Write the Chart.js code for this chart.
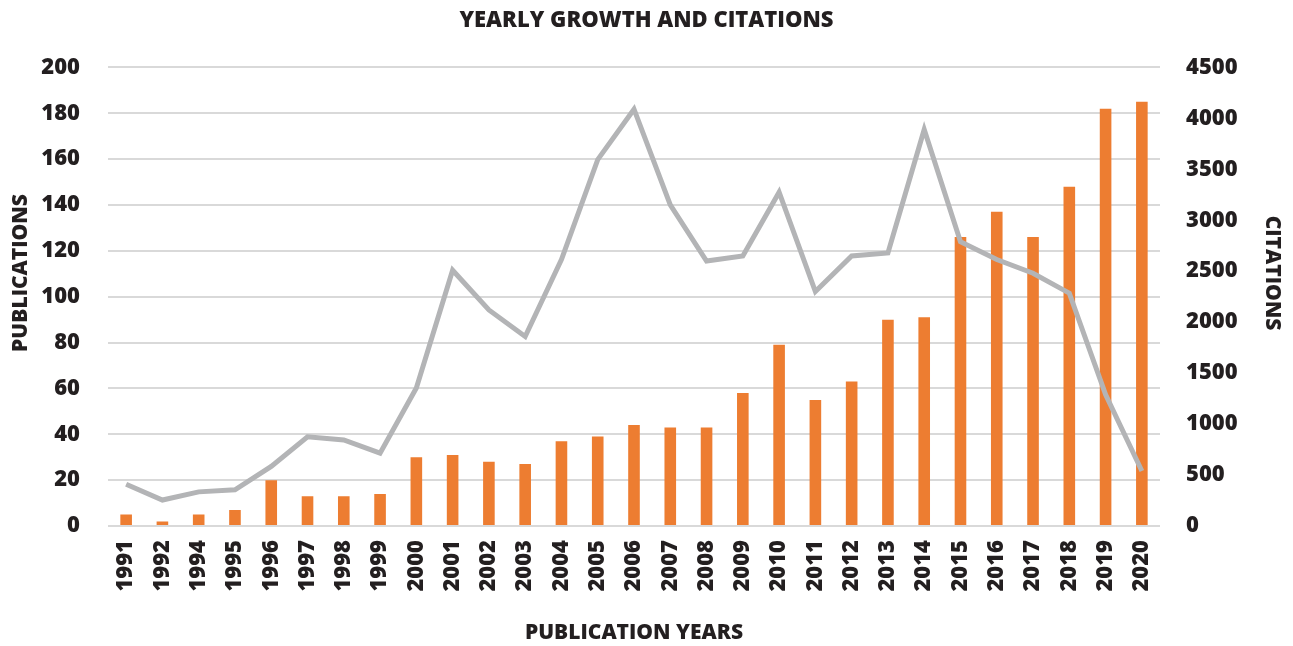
<!DOCTYPE html>
<html>
<head>
<meta charset="utf-8">
<script src="https://cdn.jsdelivr.net/npm/chart.js@4"></script>
<style>
  body { margin: 0; background: #fff; }
</style>
</head>
<body>
<canvas id="chart" width="1293" height="646"></canvas>
<script>
// data
const years = ['1991', '1992', '1994', '1995', '1996', '1997', '1998', '1999', '2000', '2001',
  '2002', '2003', '2004', '2005', '2006', '2007', '2008', '2009', '2010', '2011',
  '2012', '2013', '2014', '2015', '2016', '2017', '2018', '2019', '2020'];
const publications = [5, 2, 5, 7, 20, 13, 13, 14, 30, 31,
  28, 27, 37, 39, 44, 43, 43, 58, 79, 55,
  63, 90, 91, 126, 137, 126, 148, 182, 185];
const citations = [410, 255, 335, 355, 585, 875, 845, 715, 1355, 2510,
  2120, 1860, 2615, 3595, 4090, 3150, 2600, 2650, 3275, 2300,
  2650, 2680, 3890, 2790, 2615, 2480, 2285, 1290, 540];

const textColor = '#231f20';
const barColor = '#ed7d31';
const lineColor = '#b3b4b6';
const gridColor = '#d9d9d9';
const fontFamily = "'Open Sans', sans-serif";

Chart.defaults.font.family = fontFamily;
Chart.defaults.font.weight = 800;
Chart.defaults.color = textColor;

// vertical axis titles, placed a bit above the axis middle like the original
const sideTitles = {
  id: 'sideTitles',
  afterDraw(chart) {
    const c = chart.ctx;
    c.save();
    c.font = '800 21px ' + fontFamily;
    c.fillStyle = textColor;
    c.textAlign = 'center';
    c.textBaseline = 'middle';
    c.translate(21, 273);
    c.rotate(-Math.PI / 2);
    c.fillText('PUBLICATIONS', 0, 0);
    c.restore();
    c.save();
    c.font = '800 21px ' + fontFamily;
    c.fillStyle = textColor;
    c.textAlign = 'center';
    c.textBaseline = 'middle';
    c.translate(1272, 273);
    c.rotate(Math.PI / 2);
    c.fillText('CITATIONS', 0, 0);
    c.restore();
  }
};

const ctx = document.querySelector('#chart').getContext('2d');

new Chart(ctx, {
  type: 'bar',
  data: {
    labels: years,
    datasets: [
      {
        type: 'line',
        label: 'Citations',
        data: citations,
        yAxisID: 'yRight',
        borderColor: lineColor,
        borderWidth: 5,
        pointRadius: 0,
        tension: 0,
        order: 0
      },
      {
        type: 'bar',
        label: 'Publications',
        data: publications,
        yAxisID: 'y',
        backgroundColor: barColor,
        categoryPercentage: 1,
        barPercentage: 0.32,
        order: 1
      }
    ]
  },
  plugins: [sideTitles],
  options: {
    responsive: false,
    animation: false,
    layout: { padding: 0 },
    plugins: {
      legend: { display: false },
      tooltip: { enabled: false },
      title: {
        display: true,
        text: 'YEARLY GROWTH AND CITATIONS',
        font: { size: 22, weight: 800 },
        color: textColor,
        padding: { top: 8, bottom: 33 }
      }
    },
    scales: {
      x: {
        offset: true,
        grid: { display: false, drawTicks: false },
        border: { display: false },
        ticks: {
          font: { size: 22, weight: 800 },
          maxRotation: 90,
          minRotation: 90,
          autoSkip: false,
          padding: 14
        },
        title: {
          display: true,
          text: 'PUBLICATION YEARS',
          font: { size: 21, weight: 800 },
          padding: { top: 0, bottom: 0 }
        },
        afterFit: scale => { scale.height = 120; }
      },
      y: {
        position: 'left',
        min: 0,
        max: 200,
        ticks: { stepSize: 20, padding: 28, font: { size: 22, weight: 800 } },
        grid: { color: gridColor, lineWidth: 2, drawTicks: false },
        border: { display: false },
        afterFit: scale => { scale.width = 108; }
      },
      yRight: {
        position: 'right',
        min: 0,
        max: 4500,
        ticks: {
          stepSize: 500,
          padding: 26,
          font: { size: 22, weight: 800 },
          callback: value => String(value)
        },
        grid: { display: false, drawTicks: false },
        border: { display: false },
        afterFit: scale => { scale.width = 133; }
      }
    }
  }
});
</script>
</body>
</html>
